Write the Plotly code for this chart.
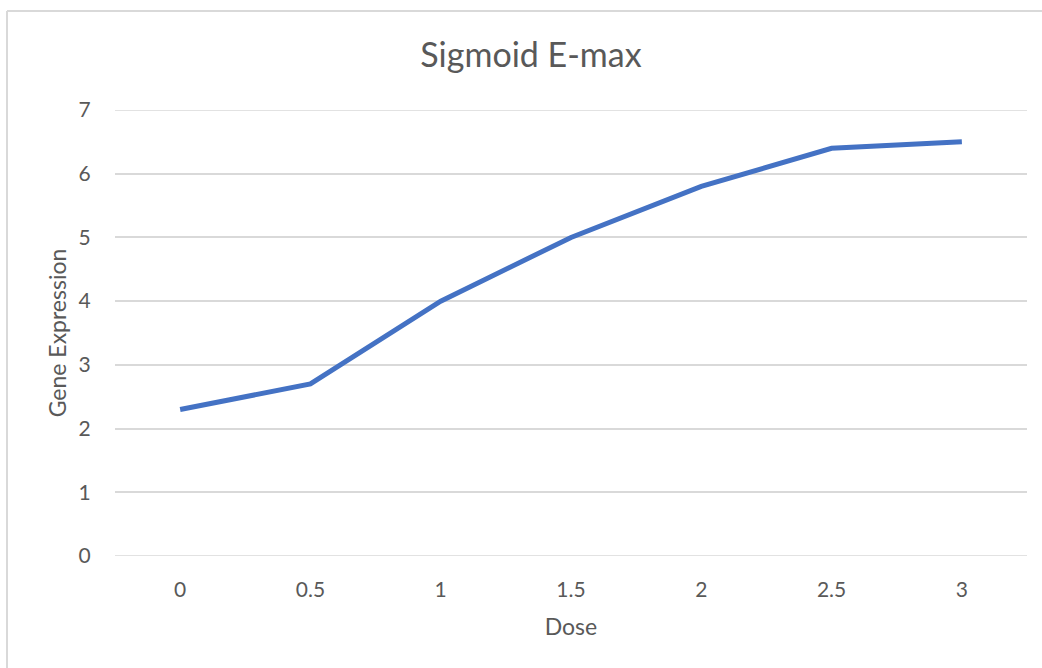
import plotly.graph_objects as go

dose = ["0", "0.5", "1", "1.5", "2", "2.5", "3"]
expression = [2.3, 2.7, 4.0, 5.0, 5.8, 6.4, 6.5]
y_ticks = [0, 1, 2, 3, 4, 5, 6, 7]

FONT = "Lato, Open Sans, sans-serif"
GREY = "#595959"

fig = go.Figure()
fig.add_trace(go.Scatter(
    x=dose, y=expression, mode="lines",
    line=dict(color="#4472C4", width=5),
    hoverinfo="x+y",
))

grid_shapes = [
    dict(type="line", xref="paper", yref="y", x0=0, x1=1, y0=v, y1=v,
         line=dict(color="#d9d9d9", width=1.5), layer="below")
    for v in (y_ticks[0], y_ticks[-1])
]

fig.update_layout(
    width=1042, height=668,
    paper_bgcolor="white", plot_bgcolor="white",
    margin=dict(l=115, r=15, t=110, b=112),
    showlegend=False,
    font=dict(family=FONT, color=GREY, size=21),
    title=dict(text="Sigmoid E-max", x=531 / 1042, xref="container", xanchor="center",
               y=1 - 55 / 668, yanchor="middle",
               font=dict(size=34, color=GREY, family=FONT)),
    xaxis=dict(
        type="category", range=[-0.5, 6.5],
        showgrid=False, zeroline=False,
        showline=False,
        ticks="outside", ticklen=15, tickcolor="rgba(0,0,0,0)",
        tickfont=dict(size=21, color=GREY),
        title=dict(text="Dose", font=dict(size=23, color=GREY), standoff=18),
    ),
    yaxis=dict(
        range=[0, 7], tickvals=y_ticks,
        showgrid=True, gridcolor="#d9d9d9", gridwidth=1.5,
        zeroline=False, showline=False,
        ticks="outside", ticklen=19, tickcolor="rgba(0,0,0,0)",
        tickfont=dict(size=21, color=GREY),
        title=dict(text="Gene Expression", font=dict(size=23, color=GREY), standoff=5),
    ),
    shapes=grid_shapes + [
        dict(type="line", xref="paper", yref="paper",
             x0=(7 - 115) / 912, x1=(7 - 115) / 912, y0=-112 / 446, y1=(556 - 11) / 446,
             line=dict(color="#d9d9d9", width=2)),
        dict(type="line", xref="paper", yref="paper",
             x0=(7 - 115) / 912, x1=(1042 - 115) / 912, y0=(556 - 11) / 446, y1=(556 - 11) / 446,
             line=dict(color="#d9d9d9", width=2)),
    ],
)

fig.write_html("out.html")
